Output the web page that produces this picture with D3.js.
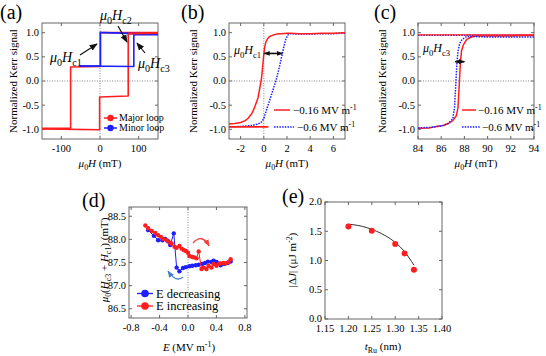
<!DOCTYPE html>
<html>
<head>
<meta charset="utf-8">
<script src="https://cdn.jsdelivr.net/npm/d3@7"></script>
<style>
  body { margin: 0; background: #fff; }
  svg { display: block; }
</style>
</head>
<body>
<svg id="fig" width="546" height="356"></svg>
<script>
// ─── Data ────────────────────────────────────────────────────────────────────
// (a) major / minor hysteresis loops, field in mT, normalized Kerr signal
const aMajorUpH = [-150, -1, -1, 73, 73, 150];
const aMajorUpM = [-0.99, -1.01, -0.33, -0.31, 0.98, 0.99];
const aMajorDnH = [150, 1, 1, -76, -76, -150];
const aMajorDnM = [1.0, 1.0, 0.30, 0.29, -0.98, -0.98];
const aMinorUpH = [-53, 87.5, 87.5, 150];
const aMinorUpM = [0.31, 0.30, 0.96, 0.96];
const aMinorDnH = [150, 8, 1, 1, -53];
const aMinorDnM = [0.97, 1.0, 1.01, 0.31, 0.31];

// (b) loops near Hc1
const bRedH = [-3.0, -2.5, -2.0, -1.6, -1.35, -1.0, -0.77, -0.5, -0.35, -0.2, -0.1, 0.0, 0.08, 0.2, 0.35, 0.5, 0.8, 1.1, 1.5, 2.0, 2.3, 3.0, 4.0, 5.0, 6.0, 7.0];
const bRedM = [-0.89, -0.88, -0.86, -0.82, -0.77, -0.66, -0.53, -0.35, -0.15, 0.05, 0.3, 0.55, 0.71, 0.82, 0.88, 0.92, 0.95, 0.97, 0.98, 0.99, 0.99, 0.98, 0.98, 0.99, 0.99, 1.0];
const bRedRetH = [-3.0, 0.4];
const bRedRetM = [-0.95, -0.95];
const bBlueH = [-3.0, -2.0, -1.5, -1.0, -0.5, -0.2, 0.0, 0.1, 0.3, 0.5, 0.8, 1.1, 1.4, 1.7, 1.9, 2.1, 2.3, 3.0, 4.0, 5.0, 6.0, 7.0];
const bBlueM = [-0.95, -0.94, -0.93, -0.92, -0.89, -0.85, -0.78, -0.70, -0.55, -0.40, -0.18, 0.05, 0.35, 0.68, 0.87, 0.96, 0.98, 0.97, 0.97, 0.98, 0.98, 0.99];

// (c) loops near Hc3
const cRedH = [84.0, 85.0, 85.6, 86.2, 86.6, 87.0, 87.3, 87.45, 87.55, 87.65, 87.75, 87.9, 88.2, 88.6, 89.0, 90, 91, 92, 93, 94];
const cRedM = [-0.98, -0.97, -0.94, -0.92, -0.88, -0.82, -0.72, -0.55, -0.1, 0.35, 0.62, 0.74, 0.86, 0.91, 0.93, 0.93, 0.93, 0.93, 0.94, 0.94];
const cRedTopH = [84, 94];
const cRedTopM = [0.955, 0.955];
const cBlueH = [84, 85, 86, 86.6, 87.0, 87.15, 87.25, 87.35, 87.45, 87.6, 87.8, 88.2, 88.8, 90, 91, 92, 93, 94];
const cBlueM = [-0.97, -0.96, -0.93, -0.88, -0.78, -0.55, -0.1, 0.35, 0.62, 0.78, 0.86, 0.92, 0.92, 0.91, 0.91, 0.91, 0.91, 0.91];
const cBlueTopH = [84, 94];
const cBlueTopM = [0.945, 0.945];

// (d) Hc3 + Hc1 vs electric field
const dDecE = [0.60, 0.56, 0.51, 0.46, 0.43, 0.40, 0.36, 0.33, 0.28, 0.24, 0.20, 0.15, 0.11, 0.06, 0.02, -0.03, -0.07, -0.12, -0.16, -0.20, -0.25, -0.28, -0.32, -0.36, -0.42, -0.48, -0.56];
const dDecH = [87.52, 87.49, 87.47, 87.44, 87.48, 87.51, 87.54, 87.51, 87.52, 87.49, 87.47, 87.45, 87.44, 87.43, 87.42, 87.40, 87.38, 87.31, 87.39, 88.13, 87.88, 87.96, 88.01, 87.98, 87.98, 88.08, 88.20];
const dIncE = [-0.60, -0.56, -0.51, -0.46, -0.42, -0.38, -0.35, -0.30, -0.26, -0.23, -0.19, -0.16, -0.12, -0.09, -0.06, -0.03, 0.00, 0.02, 0.06, 0.09, 0.12, 0.15, 0.19, 0.22, 0.26, 0.29, 0.33, 0.36, 0.40, 0.43, 0.46, 0.50, 0.53, 0.57, 0.60];
const dIncH = [88.30, 88.24, 88.18, 88.14, 88.09, 88.05, 88.01, 87.98, 87.93, 87.91, 87.84, 87.82, 87.86, 87.80, 87.77, 87.75, 87.71, 87.64, 87.62, 87.61, 87.59, 87.74, 87.36, 87.39, 87.36, 87.43, 87.39, 87.47, 87.43, 87.47, 87.48, 87.49, 87.48, 87.51, 87.57];

// (e) |ΔJ| vs Ru thickness, with fit line
const eT = [1.20, 1.25, 1.30, 1.32, 1.34];
const eJ = [1.58, 1.51, 1.28, 1.12, 0.84];
const eFitT = [1.20, 1.22, 1.24, 1.26, 1.28, 1.30, 1.32, 1.34];
const eFitJ = [1.62, 1.60, 1.56, 1.50, 1.42, 1.31, 1.15, 0.92];

// tick values
const aTicksX = [-100, 0, 100];
const kerrTicks = [-1, -0.5, 0, 0.5, 1];
const bTicksX = [-2, 0, 2, 4, 6];
const cTicksX = [84, 86, 88, 90, 92, 94];
const dTicksX = [-0.8, -0.4, 0, 0.4, 0.8];
const dTicksY = [86.5, 87, 87.5, 88, 88.5];
const eTicksX = [1.15, 1.20, 1.25, 1.30, 1.35, 1.40];
const eTicksY = [0, 0.5, 1, 1.5, 2];

// ─── Style ───────────────────────────────────────────────────────────────────
const RED = '#ff1e1e';
const BLUE = '#1e1eff';
const FRAME = '#666';
const TICK_FS = 10.5;
const FONT = 'Liberation Serif';

const svg = d3.select('#fig');
const defs = svg.append('defs');

function arrowMarker(id, color, size) {
  defs.append('marker')
    .attr('id', id)
    .attr('viewBox', '0 0 10 10')
    .attr('refX', 9).attr('refY', 5)
    .attr('markerWidth', size).attr('markerHeight', size)
    .attr('markerUnits', 'userSpaceOnUse')
    .attr('orient', 'auto-start-reverse')
    .append('path').attr('d', 'M0,1L10,5L0,9z').attr('fill', color);
}
arrowMarker('arrK', '#111', 8);
arrowMarker('arrS', '#111', 6);
arrowMarker('arrR', '#f03c3c', 7);
arrowMarker('arrB', '#3f7fd0', 7);

// rich text: parts = [{t, i (italic), sub, sup}]
function rich(g, x, y, parts, fs, anchor) {
  const txt = g.append('text').attr('x', x).attr('y', y).style('font-family', FONT)
    .attr('font-size', fs).attr('text-anchor', anchor || 'start');
  let shift = 0;
  for (const p of parts) {
    const s = txt.append('tspan').text(p.t);
    let target = 0;
    if (p.sub) { target = fs * 0.3; s.attr('font-size', fs * 0.72); }
    if (p.sup) { target = -fs * 0.38; s.attr('font-size', fs * 0.72); }
    if (target !== shift) { s.attr('dy', target - shift); shift = target; }
    if (p.i) s.attr('font-style', 'italic');
  }
  return txt;
}

function plainText(g, x, y, s, fs, anchor) {
  return g.append('text').attr('x', x).attr('y', y).style('font-family', FONT)
    .attr('font-size', fs).attr('text-anchor', anchor || 'start').text(s);
}

// frame with inward ticks on all four sides
function panel(box, xDom, yDom, xTicks, yTicks, xFmt, yFmt) {
  const x = d3.scaleLinear().domain(xDom).range([box.x0, box.x1]);
  const y = d3.scaleLinear().domain(yDom).range([box.y1, box.y0]);
  const g = svg.append('g');
  const tl = 3;
  for (const v of xTicks) {
    const px = x(v);
    g.append('line').attr('x1', px).attr('x2', px).attr('y1', box.y1).attr('y2', box.y1 - tl).attr('stroke', FRAME);
    g.append('line').attr('x1', px).attr('x2', px).attr('y1', box.y0).attr('y2', box.y0 + tl).attr('stroke', FRAME);
    plainText(g, px, box.y1 + 13, xFmt(v), TICK_FS, 'middle');
  }
  for (const v of yTicks) {
    const py = y(v);
    g.append('line').attr('y1', py).attr('y2', py).attr('x1', box.x0).attr('x2', box.x0 + tl).attr('stroke', FRAME);
    g.append('line').attr('y1', py).attr('y2', py).attr('x1', box.x1).attr('x2', box.x1 - tl).attr('stroke', FRAME);
    plainText(g, box.x0 - 3, py + 3.4, yFmt(v), TICK_FS, 'end');
  }
  g.append('rect').attr('x', box.x0).attr('y', box.y0)
    .attr('width', box.x1 - box.x0).attr('height', box.y1 - box.y0)
    .attr('fill', 'none').attr('stroke', FRAME).attr('stroke-width', 1);
  const clipId = 'clip' + Math.round(box.x0) + '_' + Math.round(box.y0);
  defs.append('clipPath').attr('id', clipId).append('rect')
    .attr('x', box.x0).attr('y', box.y0).attr('width', box.x1 - box.x0).attr('height', box.y1 - box.y0);
  const plot = svg.append('g').attr('clip-path', `url(#${clipId})`);
  return { x, y, g, plot };
}

function zeroLines(p, box, vertical) {
  p.plot.append('line').attr('x1', box.x0).attr('x2', box.x1)
    .attr('y1', p.y(0)).attr('y2', p.y(0))
    .attr('stroke', '#888').attr('stroke-dasharray', '1,1.5');
  if (vertical) {
    p.plot.append('line').attr('x1', p.x(0)).attr('x2', p.x(0))
      .attr('y1', box.y0).attr('y2', box.y1)
      .attr('stroke', '#888').attr('stroke-dasharray', '1,1.5');
  }
}

function series(p, xs, ys, color, width, dash) {
  const line = d3.line().x((d, i) => p.x(xs[i])).y((d, i) => p.y(ys[i]));
  const path = p.plot.append('path').attr('d', line(xs))
    .attr('fill', 'none').attr('stroke', color).attr('stroke-width', width)
    .attr('stroke-linejoin', 'round');
  if (dash) path.attr('stroke-dasharray', dash);
  return path;
}

function yTitle(x, y, parts, fs) {
  const g = svg.append('g').attr('transform', `translate(${x},${y}) rotate(-90)`);
  rich(g, 0, fs * 0.35, parts, fs, 'middle');
}

function panelLabel(x, y, s) {
  plainText(svg, x, y, s, 20);
}

const f1 = v => v.toFixed(1);
const f0 = v => String(v);
const f2 = v => v.toFixed(2);
const kerrTitle = [{ t: 'Normalized Kerr signal' }];
const fieldTitle = [{ t: 'μ', i: true }, { t: '0', sub: true }, { t: 'H', i: true }, { t: ' (mT)' }];

// ─── (a) ─────────────────────────────────────────────────────────────────────
const boxA = { x0: 42, x1: 158, y0: 23, y1: 139 };
const pa = panel(boxA, [-150, 150], [-1.2, 1.2], aTicksX, kerrTicks, f0, f1);
zeroLines(pa, boxA, true);
series(pa, aMajorDnH, aMajorDnM, RED, 1.6);
series(pa, aMajorUpH, aMajorUpM, RED, 1.6);
series(pa, aMinorDnH, aMinorDnM, BLUE, 1.6);
series(pa, aMinorUpH, aMinorUpM, BLUE, 1.6);
// red segment above the minor loop at top-right
series(pa, aMajorUpH.slice(4), aMajorUpM.slice(4), RED, 1.6);

rich(svg, 100, 20, [{ t: 'μ', i: true }, { t: '0', sub: true }, { t: 'H', i: true }, { t: 'c2', sub: true }], 14, 'start');
rich(svg, 50, 62, [{ t: 'μ', i: true }, { t: '0', sub: true }, { t: 'H', i: true }, { t: 'c1', sub: true }], 14, 'start');
rich(svg, 138, 68, [{ t: 'μ', i: true }, { t: '0', sub: true }, { t: 'H', i: true }, { t: 'c3', sub: true }], 14, 'start');
svg.append('line').attr('x1', 80).attr('y1', 55).attr('x2', 97).attr('y2', 44)
  .attr('stroke', '#111').attr('stroke-width', 1.2).attr('marker-end', 'url(#arrK)');
svg.append('line').attr('x1', 118).attr('y1', 26).attr('x2', 127).attr('y2', 42)
  .attr('stroke', '#111').attr('stroke-width', 1.2).attr('marker-end', 'url(#arrK)');
svg.append('line').attr('x1', 145).attr('y1', 53).attr('x2', 137).attr('y2', 43)
  .attr('stroke', '#111').attr('stroke-width', 1.2).attr('marker-end', 'url(#arrK)');

// legend (a)
[[RED, 'Major loop', 118], [BLUE, 'Minor loop', 128]].forEach(([c, s, ly]) => {
  svg.append('line').attr('x1', 104).attr('x2', 117).attr('y1', ly).attr('y2', ly).attr('stroke', c).attr('stroke-width', 1.5);
  svg.append('circle').attr('cx', 110.5).attr('cy', ly).attr('r', 3.2).attr('fill', c);
  plainText(svg, 119, ly + 3, s, 10);
});

panelLabel(0, 19, '(a)');
yTitle(13, 81, kerrTitle, 11);
rich(svg, 100, 167, fieldTitle, 11, 'middle');

// ─── (b) ─────────────────────────────────────────────────────────────────────
const boxB = { x0: 229, x1: 345, y0: 23, y1: 139 };
const pb = panel(boxB, [-3, 7], [-1.2, 1.2], bTicksX, kerrTicks, f0, f1);
zeroLines(pb, boxB, true);
series(pb, bBlueH, bBlueM, BLUE, 1.5, '1.5,1.2');
series(pb, bRedRetH, bRedRetM, RED, 1.8);
series(pb, bRedH, bRedM, RED, 1.5);
svg.append('line').attr('x1', pb.x(0.05)).attr('x2', pb.x(1.6)).attr('y1', pb.y(0.57)).attr('y2', pb.y(0.57))
  .attr('stroke', '#111').attr('stroke-width', 1.6)
  .attr('marker-start', 'url(#arrS)').attr('marker-end', 'url(#arrS)');
rich(svg, 234, 54, [{ t: 'μ', i: true }, { t: '0', sub: true }, { t: 'H', i: true }, { t: 'c1', sub: true }], 12, 'start');

function kerrLegend(x0, lineLen, tx) {
  svg.append('line').attr('x1', x0).attr('x2', x0 + lineLen).attr('y1', 110).attr('y2', 110)
    .attr('stroke', RED).attr('stroke-width', 1.5);
  rich(svg, tx, 114, [{ t: '−0.16 MV m' }, { t: '-1', sup: true }], 11, 'start');
  svg.append('line').attr('x1', x0).attr('x2', x0 + lineLen + 4).attr('y1', 127).attr('y2', 127)
    .attr('stroke', BLUE).attr('stroke-width', 1.5).attr('stroke-dasharray', '1.5,1.2');
  rich(svg, tx + 4, 131, [{ t: '−0.6 MV m' }, { t: '-1', sup: true }], 11, 'start');
}
kerrLegend(274, 16, 293);

panelLabel(181, 19, '(b)');
yTitle(193, 81, kerrTitle, 11);
rich(svg, 287, 167, fieldTitle, 11, 'middle');

// ─── (c) ─────────────────────────────────────────────────────────────────────
const boxC = { x0: 418, x1: 534, y0: 23, y1: 139 };
const pc = panel(boxC, [84, 94], [-1.2, 1.2], cTicksX, kerrTicks, f0, f1);
zeroLines(pc, boxC, false);
series(pc, cBlueTopH, cBlueTopM, BLUE, 1.5, '1.5,1.2');
series(pc, cRedTopH, cRedTopM, RED, 1.3);
series(pc, cRedH, cRedM, RED, 1.5);
series(pc, cBlueH, cBlueM, BLUE, 1.5, '1.5,1.2');
svg.append('line').attr('x1', pc.x(87.2)).attr('x2', pc.x(88.0)).attr('y1', pc.y(0.4)).attr('y2', pc.y(0.4))
  .attr('stroke', '#111').attr('stroke-width', 1.6)
  .attr('marker-start', 'url(#arrS)').attr('marker-end', 'url(#arrS)');
rich(svg, 423, 52, [{ t: 'μ', i: true }, { t: '0', sub: true }, { t: 'H', i: true }, { t: 'c3', sub: true }], 12, 'start');
kerrLegend(462, 14, 478);

panelLabel(374, 19, '(c)');
yTitle(382, 81, kerrTitle, 11);
rich(svg, 476, 167, fieldTitle, 11, 'middle');

// ─── (d) ─────────────────────────────────────────────────────────────────────
const boxD = { x0: 129, x1: 247, y0: 207, y1: 318 };
const pd = panel(boxD, [-0.83, 0.83], [86.3, 88.7], dTicksX, dTicksY, f1, f1);
pd.plot.append('line').attr('x1', pd.x(0)).attr('x2', pd.x(0)).attr('y1', boxD.y0).attr('y2', boxD.y1)
  .attr('stroke', '#888').attr('stroke-dasharray', '1,1.5');
series(pd, dDecE, dDecH, BLUE, 1);
pd.plot.selectAll('circle.dec').data(dDecE).join('circle').attr('class', 'dec')
  .attr('cx', (d, i) => pd.x(dDecE[i])).attr('cy', (d, i) => pd.y(dDecH[i])).attr('r', 2.2).attr('fill', BLUE);
series(pd, dIncE, dIncH, RED, 1);
pd.plot.selectAll('circle.inc').data(dIncE).join('circle').attr('class', 'inc')
  .attr('cx', (d, i) => pd.x(dIncE[i])).attr('cy', (d, i) => pd.y(dIncH[i])).attr('r', 2.2).attr('fill', RED);

// curved arrows
svg.append('path').attr('d', 'M193,243 Q202,233 209,246')
  .attr('fill', 'none').attr('stroke', '#f03c3c').attr('stroke-width', 1.3).attr('marker-end', 'url(#arrR)');
svg.append('path').attr('d', 'M183,277 Q176,283 168,271')
  .attr('fill', 'none').attr('stroke', '#3f7fd0').attr('stroke-width', 1.3).attr('marker-end', 'url(#arrB)');

[[BLUE, 'E decreasing', 293.5], [RED, 'E increasing', 306]].forEach(([c, s, ly]) => {
  svg.append('line').attr('x1', 137).attr('x2', 153).attr('y1', ly).attr('y2', ly).attr('stroke', c).attr('stroke-width', 1.3);
  svg.append('circle').attr('cx', 145).attr('cy', ly).attr('r', 3.8).attr('fill', c);
  plainText(svg, 156, ly + 4, s, 12.5);
});

panelLabel(82, 207, '(d)');
yTitle(104, 260, [{ t: 'μ', i: true }, { t: '0', sub: true }, { t: '(' }, { t: 'H', i: true }, { t: 'c3', sub: true },
  { t: ' + ' }, { t: 'H', i: true }, { t: 'c1', sub: true }, { t: ') (mT)' }], 11);
rich(svg, 189, 351, [{ t: 'E', i: true }, { t: ' (MV m' }, { t: '-1', sup: true }, { t: ')' }], 11, 'middle');

// ─── (e) ─────────────────────────────────────────────────────────────────────
const boxE = { x0: 325, x1: 442, y0: 202, y1: 319 };
const pe = panel(boxE, [1.15, 1.40], [0, 2], eTicksX, eTicksY, f2, f1);
const fitLine = d3.line().curve(d3.curveMonotoneX).x((d, i) => pe.x(eFitT[i])).y((d, i) => pe.y(eFitJ[i]));
pe.plot.append('path').attr('d', fitLine(eFitT)).attr('fill', 'none').attr('stroke', '#333').attr('stroke-width', 1);
pe.plot.selectAll('circle').data(eT).join('circle')
  .attr('cx', (d, i) => pe.x(eT[i])).attr('cy', (d, i) => pe.y(eJ[i])).attr('r', 3).attr('fill', RED);

panelLabel(282, 203, '(e)');
yTitle(292, 260, [{ t: '|Δ' }, { t: 'J', i: true }, { t: '| (μJ m' }, { t: '-2', sup: true }, { t: ')' }], 11);
rich(svg, 383, 350, [{ t: 't', i: true }, { t: 'Ru', sub: true }, { t: ' (nm)' }], 11, 'middle');
</script>
</body>
</html>
